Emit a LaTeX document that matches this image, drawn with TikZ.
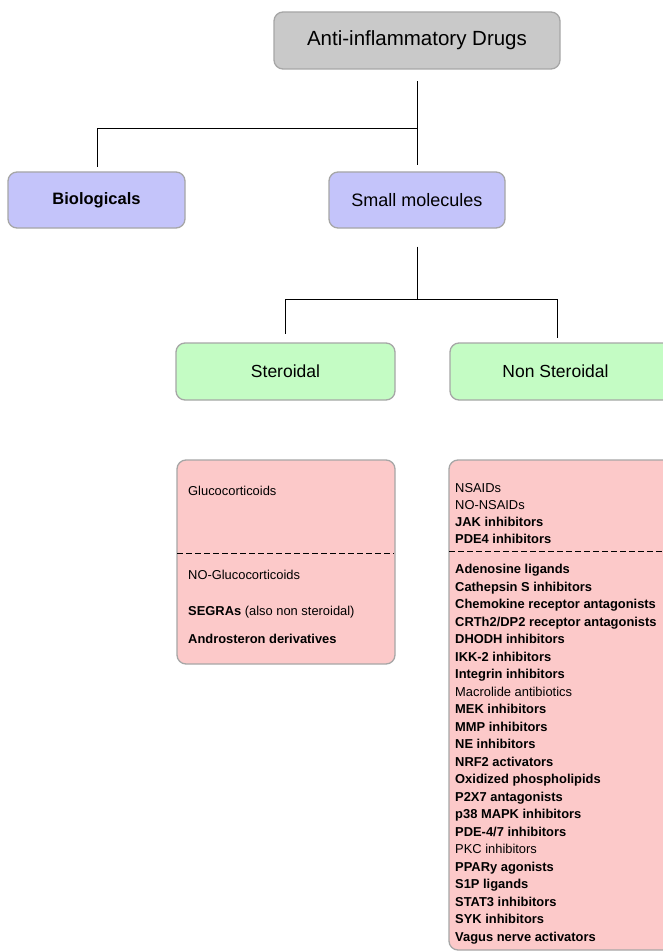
\documentclass[tikz,border=0pt]{standalone}
\usepackage{fontspec}
\setmainfont{Liberation Sans}
\definecolor{bordergray}{HTML}{A6A6A6}
\definecolor{topgray}{HTML}{C9C9C9}
\definecolor{lav}{HTML}{C4C4FA}
\definecolor{mint}{HTML}{C4FCC4}
\definecolor{pinkish}{HTML}{FCC9C9}
\begin{document}
\begin{tikzpicture}[x=1pt,y=-1pt,
  box/.style={draw=bordergray, line width=1.3pt, rounded corners=9pt, inner sep=0pt},
  conn/.style={black, line width=0.9pt},
  sep/.style={black, line width=0.9pt, dash pattern=on 6pt off 3pt},
  item/.style={anchor=base west, inner sep=0pt, font=\fontsize{12.9}{15}\selectfont},
  bitem/.style={item, font=\fontsize{12.9}{15}\selectfont\bfseries}]
\useasboundingbox (0,0) rectangle (663,952);
\clip (0,0) rectangle (663,952);
% top level
\node[box, fill=topgray, minimum width=286pt, minimum height=57pt, font=\fontsize{20.5}{24}\selectfont] (top) at (417,40.5) {Anti-inflammatory Drugs};
\node[box, fill=lav, minimum width=177pt, minimum height=56pt, font=\fontsize{16.5}{20}\selectfont\bfseries] (bio) at (96.5,200) {Biologicals};
\node[box, fill=lav, minimum width=176pt, minimum height=56pt, font=\fontsize{18}{22}\selectfont] (small) at (417,200) {Small molecules};
\node[box, fill=mint, minimum width=219pt, minimum height=57pt, font=\fontsize{17.5}{21}\selectfont] (ster) at (285.5,371.5) {Steroidal};
\node[box, fill=mint, minimum width=240pt, minimum height=57pt] (nons) at (570,371.5) {};
\node[font=\fontsize{17.5}{21}\selectfont, inner sep=0pt] (nonstext) at (555.5,371.5) {Non Steroidal};
% connectors
\path (top.south) ++(0,11.5) coordinate (t0);
\coordinate (j1) at (417,128.5);
\coordinate (b0) at (97.5,167);
\path (small.north) ++(0,-6) coordinate (s0);
\draw[conn] (t0) -- (j1) -| (b0);
\draw[conn] (j1) -- (s0);
\path (small.south) ++(0,18) coordinate (s1);
\coordinate (j2) at (417,299);
\coordinate (st0) at (285,334);
\coordinate (ns0) at (557,338);
\draw[conn] (s1) -- (j2) -| (st0);
\draw[conn] (j2) -| (ns0);
% steroidal list
\node[box, fill=pinkish, minimum width=218pt, minimum height=204pt] (slist) at (286,562) {};
\coordinate (sd0) at (177,553);
\coordinate (sd1) at (394,553);
\draw[sep] (sd0) -- (sd1);
\node[item] (g1) at (188,495) {Glucocorticoids};
\node[item] (g2) at (188,579) {NO-Glucocorticoids};
\node[item] (g3) at (188,615) {\textbf{SEGRAs} (also non steroidal)};
\node[bitem] (g4) at (188,643) {Androsteron derivatives};
% non steroidal list
\node[box, fill=pinkish, minimum width=240pt, minimum height=490pt] (nlist) at (569,705) {};
\coordinate (nd0) at (449,551);
\coordinate (nd1) at (670,551);
\draw[sep] (nd0) -- (nd1);
\node[item] (n1) at (455,492) {NSAIDs};
\node[item] (n2) at (455,509) {NO-NSAIDs};
\node[bitem] (n3) at (455,526) {JAK inhibitors};
\node[bitem] (n4) at (455,543) {PDE4 inhibitors};
\foreach \t/\w [count=\k from 0] in {
  Adenosine ligands/b, Cathepsin S inhibitors/b, Chemokine receptor antagonists/b,
  CRTh2\slash DP2 receptor antagonists/b, DHODH inhibitors/b, IKK-2 inhibitors/b,
  Integrin inhibitors/b, Macrolide antibiotics/r, MEK inhibitors/b, MMP inhibitors/b,
  NE inhibitors/b, NRF2 activators/b, Oxidized phospholipids/b, P2X7 antagonists/b,
  p38 MAPK inhibitors/b, PDE-4\slash 7 inhibitors/b, PKC inhibitors/r, PPARy agonists/b,
  S1P ligands/b, STAT3 inhibitors/b, SYK inhibitors/b, Vagus nerve activators/b}{
  \if b\w
    \node[bitem] (m\k) at (455,{573.5+17.5*\k}) {\t};
  \else
    \node[item] (m\k) at (455,{573.5+17.5*\k}) {\t};
  \fi
}
\end{tikzpicture}
\end{document}
